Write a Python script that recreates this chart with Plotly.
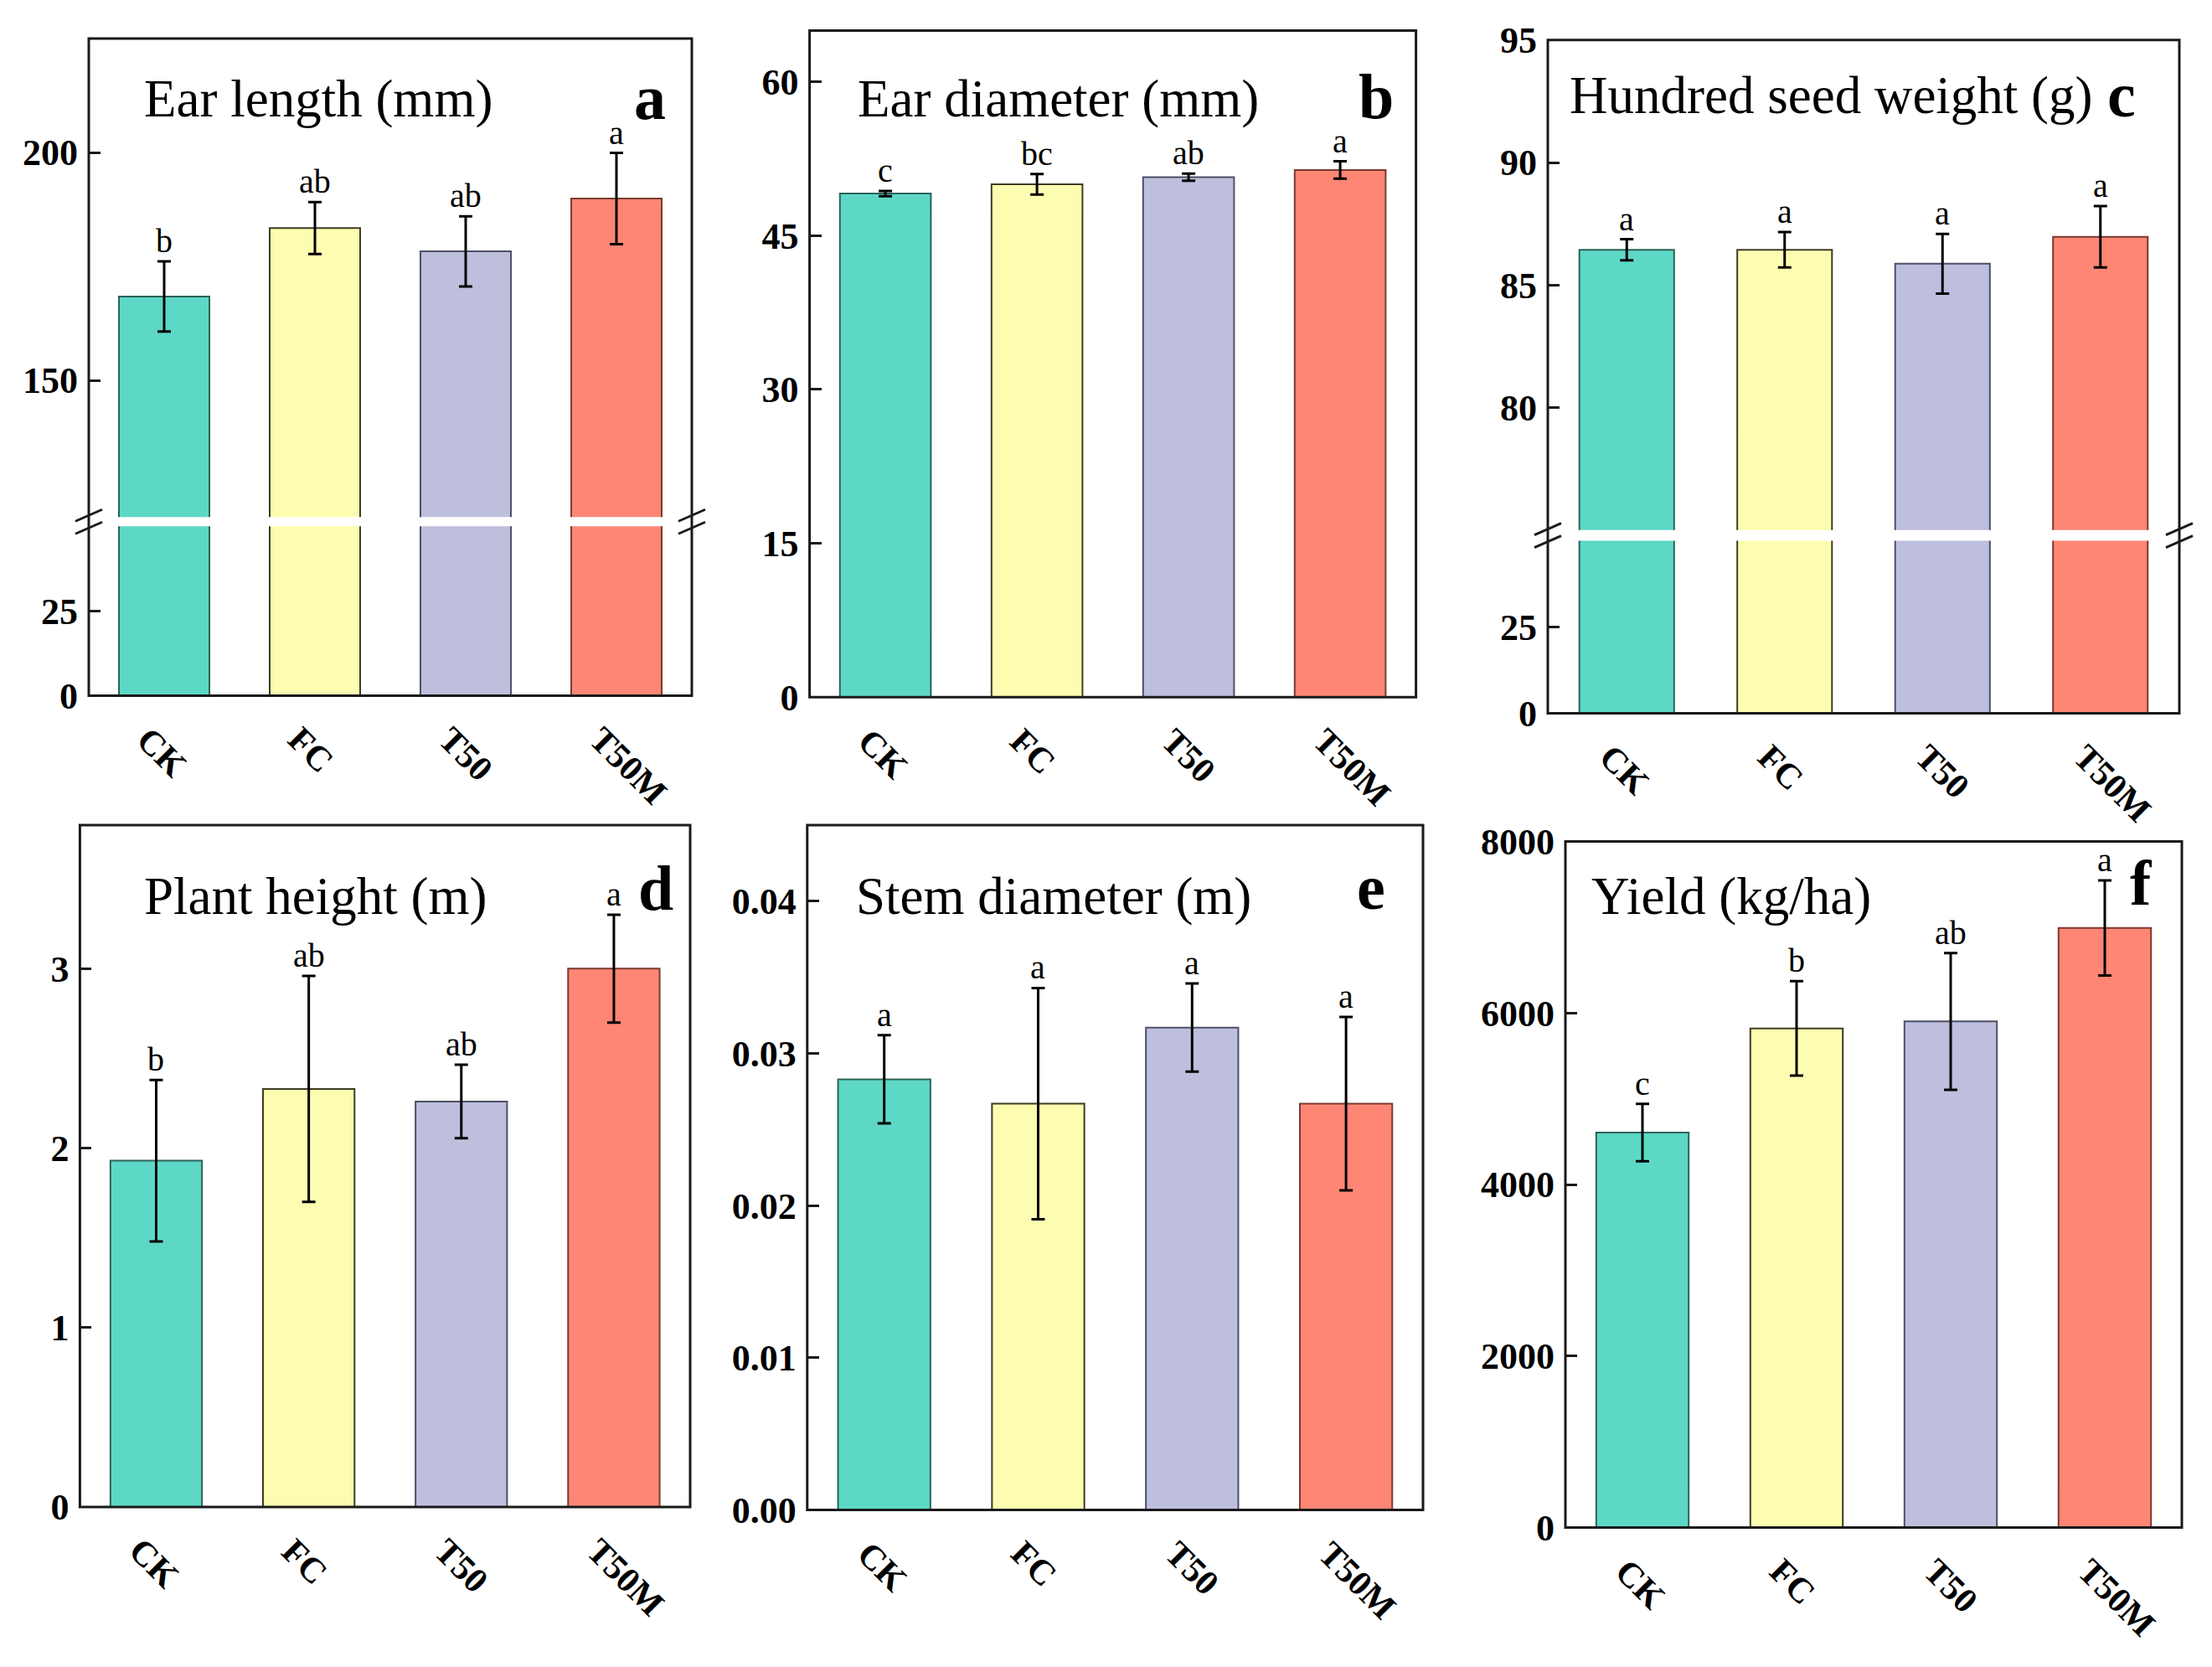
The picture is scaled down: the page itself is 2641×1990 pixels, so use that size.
import plotly.graph_objects as go

W, H = 2641, 1990
FONT = "Liberation Serif"

# ---------------- data ----------------
categories = ["CK", "FC", "T50", "T50M"]
bar_colors = ["#5dd8c6", "#fdfdb1", "#bdbfdd", "#fd8675"]
edge_colors = ["#2e6258", "#3c3c24", "#4e4f66", "#7a3a30"]

ear_length = [168.4, 183.4, 178.3, 189.9]
ear_length_err = [7.7, 5.7, 7.7, 10.0]
ear_length_sig = ["b", "ab", "ab", "a"]

ear_diameter = [49.1, 50.0, 50.7, 51.4]
ear_diameter_err = [0.25, 1.0, 0.35, 0.85]
ear_diameter_sig = ["c", "bc", "ab", "a"]

seed_weight = [86.44, 86.44, 85.87, 86.97]
seed_weight_err = [0.43, 0.72, 1.22, 1.25]
seed_weight_sig = ["a", "a", "a", "a"]

plant_height = [1.93, 2.33, 2.26, 3.00]
plant_height_err = [0.45, 0.63, 0.205, 0.30]
plant_height_sig = ["b", "ab", "ab", "a"]

stem_diameter = [0.0283, 0.0267, 0.0317, 0.0267]
stem_diameter_err = [0.0029, 0.0076, 0.0029, 0.0057]
stem_diameter_sig = ["a", "a", "a", "a"]

yield_kg = [4605, 5820, 5902, 6992]
yield_kg_err = [334, 550, 797, 555]
yield_kg_sig = ["c", "b", "ab", "a"]

# ---------------- layout helpers ----------------
def fx(p):
    return p / W


def fy(p):
    return 1 - p / H


panels = [
    dict(title="Ear length (mm)", letter="a", vals=ear_length, err=ear_length_err, sig=ear_length_sig,
         x=(106, 826), broken=True, upper=(46, 617.3), lower=(628.2, 830.4),
         urange=[120, 225], uticks=[150, 200], lrange=[0, 50], lticks=[0, 25],
         title_pos=(170, 118), letter_pos=(776, 116)),
    dict(title="Ear diameter (mm)", letter="b", vals=ear_diameter, err=ear_diameter_err, sig=ear_diameter_sig,
         x=(966.6, 1690.6), broken=False, y=(36.4, 832.3), range=[0, 65], ticks=[0, 15, 30, 45, 60],
         title_pos=(1022, 118), letter_pos=(1643, 115)),
    dict(title="Hundred seed weight (g)", letter="c", vals=seed_weight, err=seed_weight_err, sig=seed_weight_sig,
         x=(1848, 2602), broken=True, upper=(47.8, 632.7), lower=(645.4, 851.4),
         urange=[75, 95], uticks=[80, 85, 90, 95], lrange=[0, 50], lticks=[0, 25],
         title_pos=(1872, 114), letter_pos=(2533, 113)),
    dict(title="Plant height (m)", letter="d", vals=plant_height, err=plant_height_err, sig=plant_height_sig,
         x=(95.4, 824), broken=False, y=(985, 1799), range=[0, 3.8], ticks=[0, 1, 2, 3],
         title_pos=(170, 1070), letter_pos=(783, 1060)),
    dict(title="Stem diameter (m)", letter="e", vals=stem_diameter, err=stem_diameter_err, sig=stem_diameter_sig,
         x=(963.8, 1699), broken=False, y=(985, 1802.6), range=[0, 0.045],
         ticks=[0, 0.01, 0.02, 0.03, 0.04], fmt=".2f",
         title_pos=(1020, 1070), letter_pos=(1637, 1059)),
    dict(title="Yield (kg/ha)", letter="f", vals=yield_kg, err=yield_kg_err, sig=yield_kg_sig,
         x=(1869, 2605), broken=False, y=(1004.5, 1823.5), range=[0, 8000],
         ticks=[0, 2000, 4000, 6000, 8000],
         title_pos=(1898, 1070), letter_pos=(2556, 1054)),
]

fig = go.Figure()
layout = dict(
    width=W, height=H, margin=dict(l=0, r=0, t=0, b=0, autoexpand=False),
    paper_bgcolor="white", plot_bgcolor="white", showlegend=False,
    bargap=0.4, font=dict(family=FONT, color="black"),
)
annotations = []
shapes = []

tickfont = dict(family=FONT, size=44, color="black", weight="bold")
LINE_C = "#1a1a1a"

n = [0]


def new_axes(xdom, ydom, yrange, ticks, fmt=None):
    n[0] += 1
    k = n[0]
    xn = "xaxis" if k == 1 else f"xaxis{k}"
    yn = "yaxis" if k == 1 else f"yaxis{k}"
    xr = "x" if k == 1 else f"x{k}"
    yr = "y" if k == 1 else f"y{k}"
    layout[xn] = dict(domain=[fx(xdom[0]), fx(xdom[1])], anchor=yr, type="category",
                      range=[-0.5, 3.5], showline=False, showticklabels=False,
                      ticks="", showgrid=False, zeroline=False, fixedrange=True,
                      automargin=False)
    yd = dict(domain=[fy(ydom[1]), fy(ydom[0])], anchor=xr, range=yrange,
              tickmode="array", tickvals=ticks, ticks="inside", ticklen=14,
              tickwidth=3, tickcolor=LINE_C, tickfont=tickfont, showgrid=False,
              zeroline=False, showline=False, ticklabelstandoff=12,
              automargin=False, fixedrange=True)
    if fmt:
        yd["tickformat"] = fmt
    layout[yn] = yd
    return xr, yr


def add_bars(xr, yr, p, with_err):
    kw = {}
    if with_err:
        kw["error_y"] = dict(type="data", array=p["err"], visible=True,
                             color="black", thickness=3, width=8)
    fig.add_trace(go.Bar(x=categories, y=p["vals"], xaxis=xr, yaxis=yr, width=0.6,
                         marker=dict(color=bar_colors,
                                     line=dict(color=edge_colors, width=2)),
                         hoverinfo="skip", **kw))


for p in panels:
    x0, x1 = p["x"]
    if p["broken"]:
        xl, yl = new_axes(p["x"], p["lower"], p["lrange"], p["lticks"])
        xu, yu = new_axes(p["x"], p["upper"], p["urange"], p["uticks"])
        add_bars(xl, yl, p, False)
        add_bars(xu, yu, p, True)
        top, bottom = p["upper"][0], p["lower"][1]
        sig_x, sig_y = xu, yu
        lab_x, lab_y = xl, yl
        yc = (p["upper"][1] + p["lower"][0]) / 2
        for xa in (x0, x1):
            for off in (-7.5, 7.5):
                shapes.append(dict(type="line", xref="paper", yref="paper",
                                   x0=fx(xa - 16), y0=fy(yc + off + 7),
                                   x1=fx(xa + 16), y1=fy(yc + off - 7),
                                   line=dict(color=LINE_C, width=3), layer="above"))
    else:
        xa_, ya_ = new_axes(p["x"], p["y"], p["range"], p["ticks"], p.get("fmt"))
        add_bars(xa_, ya_, p, True)
        top, bottom = p["y"]
        sig_x, sig_y = xa_, ya_
        lab_x, lab_y = xa_, ya_

    shapes.append(dict(type="rect", xref="paper", yref="paper",
                       x0=fx(x0), x1=fx(x1), y0=fy(bottom), y1=fy(top),
                       line=dict(color=LINE_C, width=3), fillcolor="rgba(0,0,0,0)",
                       layer="above"))

    for c, v, e, s in zip(categories, p["vals"], p["err"], p["sig"]):
        annotations.append(dict(x=c, y=v + e, xref=sig_x, yref=sig_y, text=s,
                                showarrow=False, yanchor="bottom", yshift=0,
                                font=dict(family=FONT, size=40, color="black")))

    for c in categories:
        annotations.append(dict(x=c, y=0, xref=lab_x, yref=f"{lab_y} domain", text=c,
                                showarrow=False, textangle=45, xanchor="left",
                                yanchor="top", xshift=-44, yshift=-26,
                                font=dict(family=FONT, size=42, color="black",
                                          weight="bold")))

    tx, ty = p["title_pos"]
    annotations.append(dict(x=fx(tx), y=fy(ty), xref="paper", yref="paper",
                            text=p["title"], showarrow=False, xanchor="left",
                            yanchor="middle",
                            font=dict(family=FONT, size=63, color="black")))
    lx, ly = p["letter_pos"]
    annotations.append(dict(x=fx(lx), y=fy(ly), xref="paper", yref="paper",
                            text=p["letter"], showarrow=False, xanchor="center",
                            yanchor="middle",
                            font=dict(family=FONT, size=76, color="black",
                                      weight="bold")))

layout["annotations"] = annotations
layout["shapes"] = shapes
fig.update_layout(**layout)

fig.write_html("out.html", config={"displayModeBar": False},
               post_script="document.body.style.margin='0';document.body.style.overflow='hidden';")
